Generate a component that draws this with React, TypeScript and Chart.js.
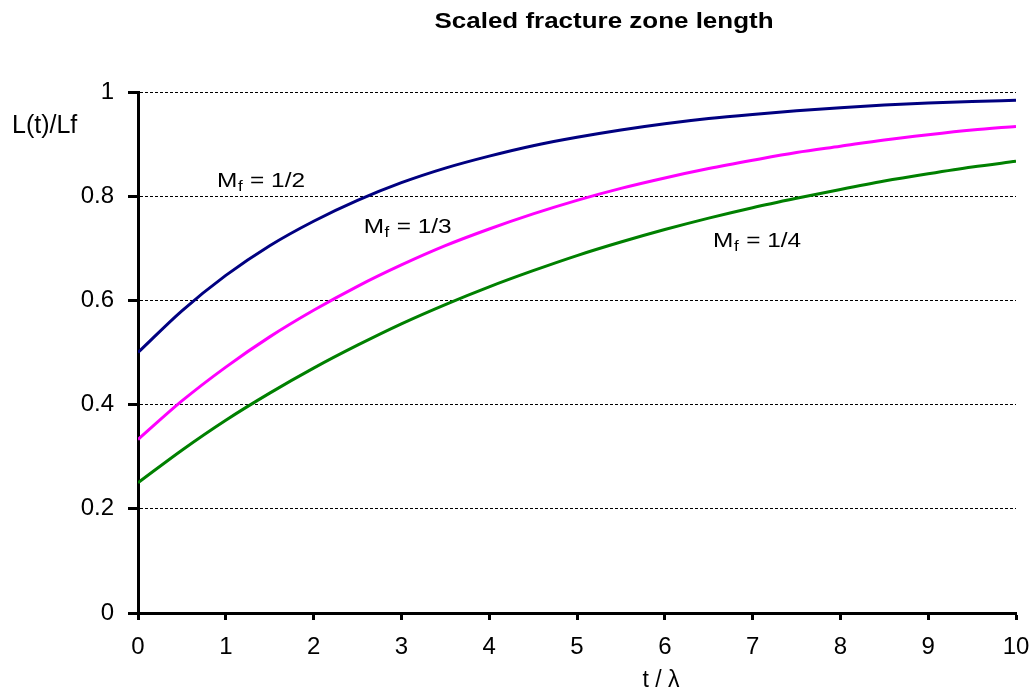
import React, { useEffect, useRef } from "react";
import { Chart, registerables } from "chart.js";

Chart.register(...registerables);

// ---- data ----
const tValues = [0, 0.5, 1, 1.5, 2, 2.5, 3, 3.5, 4, 4.5, 5, 5.5, 6, 6.5, 7, 7.5, 8, 8.5, 9, 9.5, 10];
const mfHalf = [0.5, 0.58, 0.648, 0.705, 0.752, 0.792, 0.826, 0.854, 0.877, 0.897, 0.913, 0.927, 0.939, 0.949, 0.957, 0.964, 0.97, 0.975, 0.979, 0.982, 0.984];
const mfThird = [0.333, 0.407, 0.472, 0.53, 0.581, 0.627, 0.668, 0.705, 0.737, 0.766, 0.792, 0.815, 0.835, 0.853, 0.869, 0.884, 0.896, 0.908, 0.918, 0.927, 0.934];
const mfQuarter = [0.25, 0.3125, 0.37, 0.422, 0.47, 0.514, 0.555, 0.592, 0.626, 0.657, 0.686, 0.712, 0.736, 0.758, 0.778, 0.796, 0.813, 0.829, 0.843, 0.856, 0.867];

const seriesNames = ["Mf = 1/2", "Mf = 1/3", "Mf = 1/4"];
const seriesColors = ["#000080", "#FF00FF", "#008000"];
const curveTags = ["= 1/2", "= 1/3", "= 1/4"];
// label anchors in data coordinates (t, L/Lf at the text baseline)
const tagT = [0.9, 2.57, 6.55];
const tagY = [0.818, 0.729, 0.702];

const yTickStep = 0.2;
const xTickStep = 1;

const titleText = "Scaled fracture zone length";
const yAxisLabel = "L(t)/Lf";
const xAxisLabel = "t / \u03bb";

const FONT = "'Liberation Sans', Arial, Helvetica, sans-serif";

const textPlugin = {
  id: "customText",
  afterDraw(chart: any) {
    const ctx = chart.ctx as CanvasRenderingContext2D;
    const xs = chart.scales.x;
    const ys = chart.scales.y;
    ctx.save();
    ctx.fillStyle = "#000";
    ctx.textBaseline = "alphabetic";

    // title
    ctx.save();
    ctx.font = `bold 22px ${FONT}`;
    ctx.textAlign = "center";
    ctx.translate(604, 28);
    ctx.scale(1.18, 1);
    ctx.fillText(titleText, 0, 0);
    ctx.restore();

    // y axis label
    ctx.font = `25px ${FONT}`;
    ctx.textAlign = "left";
    ctx.fillText(yAxisLabel, 12, 133);

    // x axis label
    ctx.font = `23px ${FONT}`;
    ctx.textAlign = "center";
    ctx.fillText(xAxisLabel, 661, 687);

    // curve labels
    for (let i = 0; i < curveTags.length; i++) {
      const px = xs.getPixelForValue(tagT[i]);
      const py = ys.getPixelForValue(tagY[i]);
      ctx.save();
      ctx.translate(px, py);
      ctx.scale(1.22, 1);
      ctx.textAlign = "left";
      ctx.font = `20px ${FONT}`;
      ctx.fillText("M", 0, 0);
      const wM = ctx.measureText("M").width;
      ctx.font = `14px ${FONT}`;
      ctx.fillText("f", wM + 0.5, 4);
      const wf = ctx.measureText("f").width;
      ctx.font = `20px ${FONT}`;
      ctx.fillText(" " + curveTags[i], wM + wf + 1, 0);
      ctx.restore();
    }
    ctx.restore();
  },
};

export default function App() {
  const canvasRef = useRef<HTMLCanvasElement | null>(null);

  useEffect(() => {
    if (!canvasRef.current) return;
    const allSeries = [mfHalf, mfThird, mfQuarter];
    const chart = new Chart(canvasRef.current, {
      type: "line",
      data: {
        datasets: allSeries.map((vals, i) => ({
          label: seriesNames[i],
          data: tValues.map((t, j) => ({ x: t, y: vals[j] })),
          borderColor: seriesColors[i],
          backgroundColor: seriesColors[i],
          borderWidth: 3,
          pointRadius: 0,
          fill: false,
          cubicInterpolationMode: "monotone" as const,
        })),
      },
      options: {
        animation: false,
        responsive: false,
        devicePixelRatio: 1,
        layout: { padding: { top: 92, right: 18, left: 0, bottom: 0 } },
        plugins: {
          legend: { display: false },
          title: { display: false },
          tooltip: { enabled: false },
        },
        scales: {
          x: {
            type: "linear",
            min: 0,
            max: 10,
            ticks: {
              stepSize: xTickStep,
              color: "#000",
              font: { family: FONT, size: 24 },
              padding: 13,
              maxRotation: 0,
            },
            grid: {
              drawOnChartArea: false,
              drawTicks: true,
              tickLength: 7,
              tickWidth: 3,
              tickColor: "#000",
            },
            border: { display: true, color: "#000", width: 3 },
            afterFit: (s: any) => {
              s.height = 79;
              s.paddingLeft = 0;
              s.paddingRight = 0;
            },
          },
          y: {
            type: "linear",
            min: 0,
            max: 1,
            ticks: {
              stepSize: yTickStep,
              color: "#000",
              font: { family: FONT, size: 24 },
              padding: 14,
              callback: (v: any) => String(Math.round(Number(v) * 10) / 10),
            },
            grid: {
              color: "#000",
              lineWidth: 1,
              drawTicks: true,
              tickLength: 10,
              tickWidth: 3,
              tickColor: "#000",
              tickBorderDash: [],
            },
            border: { display: true, color: "#000", width: 3, dash: [3, 2] },
            afterFit: (s: any) => {
              s.width = 138;
              s.paddingTop = 0;
              s.paddingBottom = 0;
            },
          },
        },
      },
      plugins: [textPlugin],
    } as any);
    return () => chart.destroy();
  }, []);

  return (
    <div style={{ position: "absolute", left: 0, top: 0, width: 1034, height: 692, background: "#fff" }}>
      <canvas ref={canvasRef} width={1034} height={692} style={{ display: "block", width: 1034, height: 692 }} />
    </div>
  );
}
